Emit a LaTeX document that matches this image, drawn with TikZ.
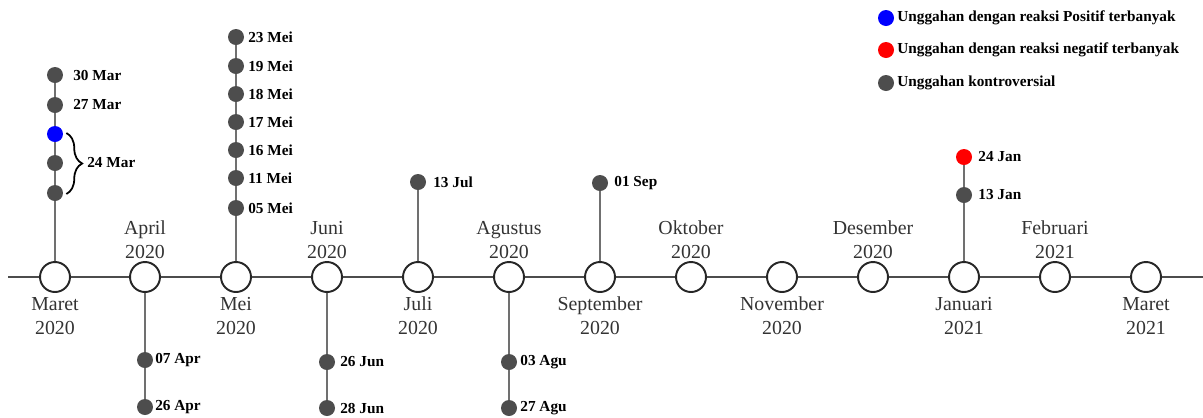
\documentclass[tikz,border=0pt]{standalone}
\usepackage{fontspec}
\setmainfont{Liberation Serif}
\usetikzlibrary{decorations.pathreplacing}
\definecolor{dotgray}{HTML}{4D4D4D}
\definecolor{stemgray}{HTML}{707070}

\begin{document}
\begin{tikzpicture}[x=0.02cm,y=-0.02cm,
    month/.style={circle,draw=black!85,fill=white,line width=1.1pt,minimum size=0.6cm,inner sep=0pt},
    post/.style={circle,fill=dotgray,minimum size=0.32cm,inner sep=0pt},
    positif/.style={post,fill=blue},
    negatif/.style={post,fill=red},
    mname/.style={align=center,text=black!80,font=\fontsize{11.3}{13.8}\selectfont},
    date/.style={anchor=west,inner sep=0pt,font=\fontsize{8.7}{10}\selectfont\bfseries},
    stem/.style={stemgray,line width=1.2pt},
    axis/.style={black!70,line width=1.2pt}]
    \useasboundingbox (0,0) rectangle (1203,417);
    \coordinate (start) at (8,277);
    \coordinate (end) at (1203,277);
    % months on the axis
    \node[month] (m1) at (55,277) {};
    \node[month] (m2) at (145,277) {};
    \node[month] (m3) at (236,277) {};
    \node[month] (m4) at (327,277) {};
    \node[month] (m5) at (418,277) {};
    \node[month] (m6) at (509,277) {};
    \node[month] (m7) at (600,277) {};
    \node[month] (m8) at (691,277) {};
    \node[month] (m9) at (782,277) {};
    \node[month] (m10) at (873,277) {};
    \node[month] (m11) at (964,277) {};
    \node[month] (m12) at (1055,277) {};
    \node[month] (m13) at (1146,277) {};
    \draw[axis] (start) -- (m1) -- (m2) -- (m3) -- (m4) -- (m5) -- (m6) -- (m7)
      -- (m8) -- (m9) -- (m10) -- (m11) -- (m12) -- (m13) -- (end);
    \node[mname] (n1) at (55,316) {Maret\\2020};
    \node[mname] (n2) at (145,240) {April\\2020};
    \node[mname] (n3) at (236,316) {Mei\\2020};
    \node[mname] (n4) at (327,240) {Juni\\2020};
    \node[mname] (n5) at (418,316) {Juli\\2020};
    \node[mname] (n6) at (509,240) {Agustus\\2020};
    \node[mname] (n7) at (600,316) {September\\2020};
    \node[mname] (n8) at (691,240) {Oktober\\2020};
    \node[mname] (n9) at (782,316) {November\\2020};
    \node[mname] (n10) at (873,240) {Desember\\2020};
    \node[mname] (n11) at (964,316) {Januari\\2021};
    \node[mname] (n12) at (1055,240) {Februari\\2021};
    \node[mname] (n13) at (1146,316) {Maret\\2021};
    % Maret
    \node[post] (d30mar) at (55,75) {};
    \node[post] (d27mar) at (55,105) {};
    \node[positif] (d24mara) at (55,134) {};
    \node[post] (d24marb) at (55,163) {};
    \node[post] (d24marc) at (55,193) {};
    \draw[stem] (m1) -- (d24marc) -- (d24marb) -- (d24mara) -- (d27mar) -- (d30mar);
    \node[date] (t30mar) at (73,75) {30 Mar};
    \node[date] (t27mar) at (73,105) {27 Mar};
    \draw[decorate,decoration={brace,amplitude=9pt},line width=1pt]
      ([shift={(3,-1)}]d24mara.east) -- ([shift={(3,1)}]d24marc.east);
    \node[date] (t24mar) at (87,163) {24 Mar};
    % April
    \node[post] (d07apr) at (145,360) {};
    \node[post] (d26apr) at (145,407) {};
    \draw[stem] (m2) -- (d07apr) -- (d26apr);
    \node[date] (t07apr) at (155,360) {07 Apr};
    \node[date] (t26apr) at (155,407) {26 Apr};
    % Mei
    \node[post] (d23mei) at (236,37) {};
    \node[post] (d19mei) at (236,66) {};
    \node[post] (d18mei) at (236,94) {};
    \node[post] (d17mei) at (236,122) {};
    \node[post] (d16mei) at (236,150) {};
    \node[post] (d11mei) at (236,178) {};
    \node[post] (d05mei) at (236,208) {};
    \draw[stem] (m3) -- (d05mei) -- (d11mei) -- (d16mei) -- (d17mei) -- (d18mei) -- (d19mei) -- (d23mei);
    \node[date] (t23mei) at (248,37) {23 Mei};
    \node[date] (t19mei) at (248,66) {19 Mei};
    \node[date] (t18mei) at (248,94) {18 Mei};
    \node[date] (t17mei) at (248,122) {17 Mei};
    \node[date] (t16mei) at (248,150) {16 Mei};
    \node[date] (t11mei) at (248,178) {11 Mei};
    \node[date] (t05mei) at (248,208) {05 Mei};
    % Juni
    \node[post] (d26jun) at (327,362) {};
    \node[post] (d28jun) at (327,408) {};
    \draw[stem] (m4) -- (d26jun) -- (d28jun);
    \node[date] (t26jun) at (340,362) {26 Jun};
    \node[date] (t28jun) at (340,408) {28 Jun};
    % Juli
    \node[post] (d13jul) at (418,182) {};
    \draw[stem] (m5) -- (d13jul);
    \node[date] (t13jul) at (433,182) {13 Jul};
    % Agustus
    \node[post] (d03agu) at (509,362) {};
    \node[post] (d27agu) at (509,408) {};
    \draw[stem] (m6) -- (d03agu) -- (d27agu);
    \node[date] (t03agu) at (520,362) {03 Agu};
    \node[date] (t27agu) at (520,408) {27 Agu};
    % September
    \node[post] (d01sep) at (600,183) {};
    \draw[stem] (m7) -- (d01sep);
    \node[date] (t01sep) at (614,183) {01 Sep};
    % Januari
    \node[negatif] (d24jan) at (964,157) {};
    \node[post] (d13jan) at (964,195) {};
    \draw[stem] (m11) -- (d13jan) -- (d24jan);
    \node[date] (t24jan) at (978,157) {24 Jan};
    \node[date] (t13jan) at (978,195) {13 Jan};
    % legend
    \node[positif] (kpos) at (886,18) {};
    \node[negatif] (kneg) at (886,50) {};
    \node[post] (kcon) at (886,83) {};
    \node[date] (lpos) at (897,18) {Unggahan dengan reaksi Positif terbanyak};
    \node[date] (lneg) at (897,50) {Unggahan dengan reaksi negatif terbanyak};
    \node[date] (lcon) at (897,83) {Unggahan kontroversial};
\end{tikzpicture}
\end{document}
